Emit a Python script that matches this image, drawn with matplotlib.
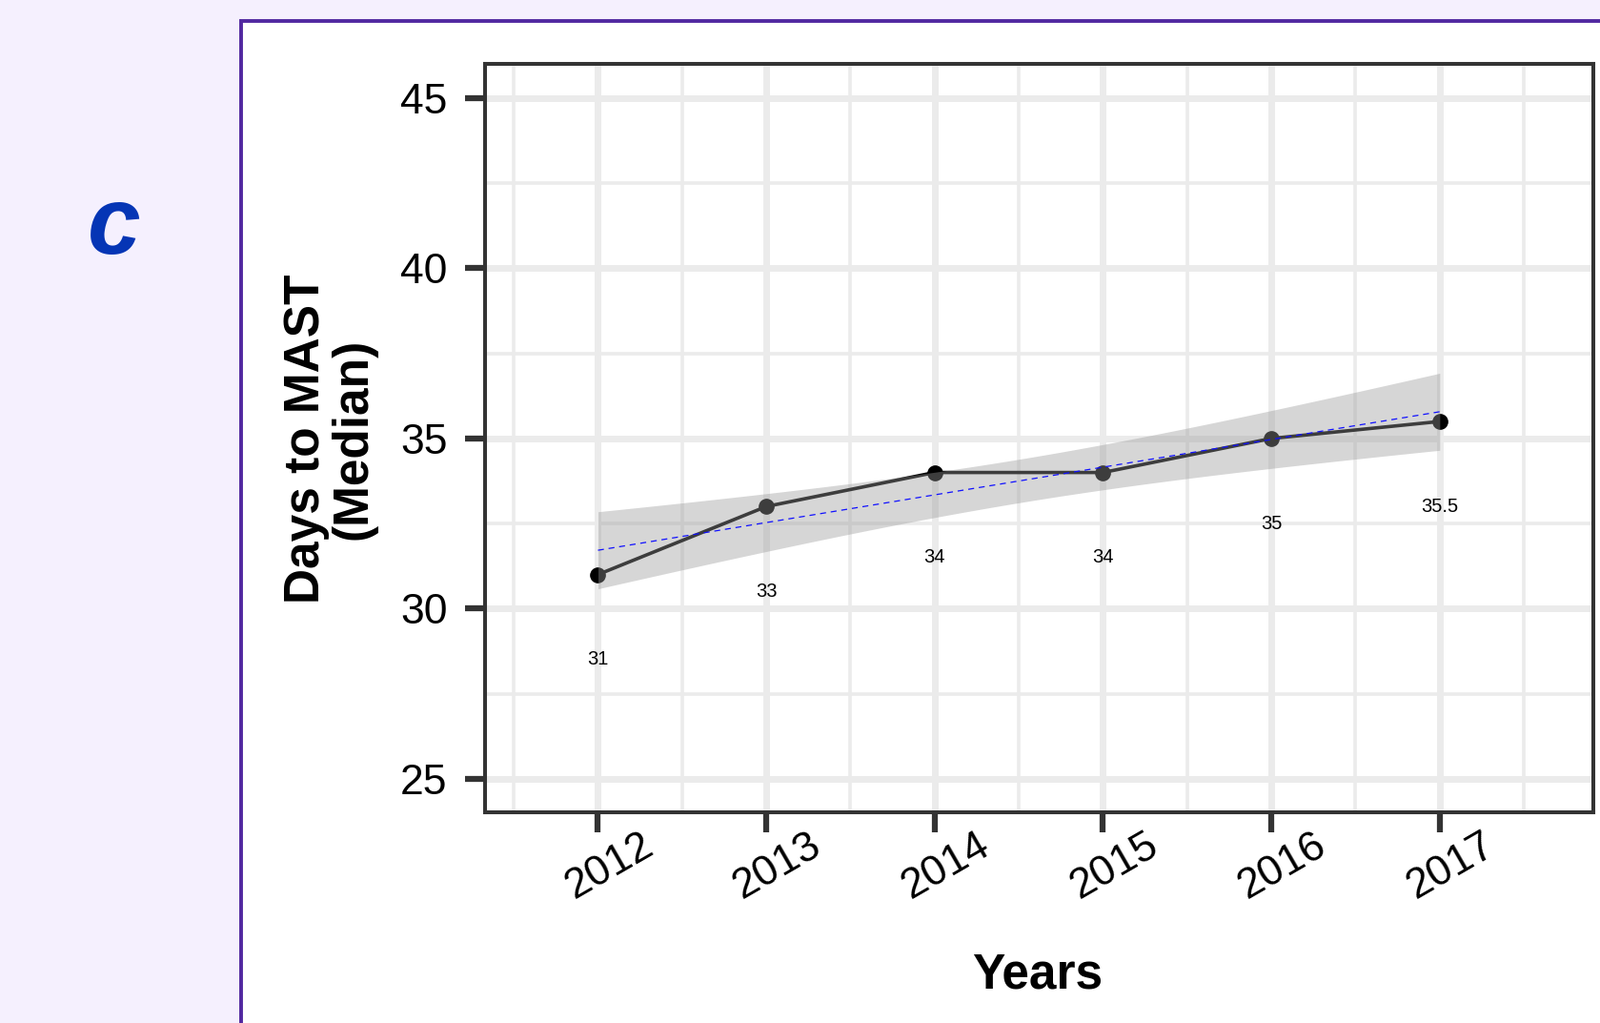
import numpy as np
import matplotlib.pyplot as plt
from matplotlib.patches import Rectangle
from matplotlib.transforms import ScaledTranslation

plt.rcParams['font.family'] = ['Liberation Sans', 'DejaVu Sans']

# data
years = [2012, 2013, 2014, 2015, 2016, 2017]
median_days = [31, 33, 34, 34, 35, 35.5]
point_labels = ['31', '33', '34', '34', '35', '35.5']
y_ticks = [25, 30, 35, 40, 45]
x_minor = [2011.5, 2012.5, 2013.5, 2014.5, 2015.5, 2016.5, 2017.5]
y_minor = [27.5, 32.5, 37.5, 42.5]

# linear fit with 95% band, like geom_smooth(method = "lm")
x = np.array(years, dtype=float)
y = np.array(median_days, dtype=float)
slope, intercept = np.polyfit(x, y, 1)
n = len(x)
resid = y - (intercept + slope * x)
s = np.sqrt(np.sum(resid ** 2) / (n - 2))
t_crit = 2.776  # t(0.975, df = 4)
xs = np.linspace(x.min(), x.max(), 80)
fit = intercept + slope * xs
se = s * np.sqrt(1 / n + (xs - x.mean()) ** 2 / np.sum((x - x.mean()) ** 2))

fig = plt.figure(figsize=(16.79, 10.73), dpi=100)
fig.patch.set_facecolor('#F5F0FE')

# white panel with purple frame
fig.patches.append(Rectangle((253 / 1679, -0.05), 1.0, 1.05 - 22 / 1073,
                             transform=fig.transFigure, facecolor='white',
                             edgecolor='#5128A0', linewidth=2.8, zorder=-10))

fig.text(120 / 1679, 1 - 240 / 1073, 'c', color='#0535B5', fontsize=72,
         fontweight='bold', fontstyle='italic', ha='center', va='center')

ax = fig.add_axes([508.6 / 1679, 1 - 852.4 / 1073,
                   1163 / 1679, 785 / 1073])
ax.set_zorder(5)
ax.set_facecolor('white')

ax.plot(x, y, color='black', linewidth=2.6, zorder=3)
ax.plot(x, y, 'o', color='black', markersize=11, zorder=3)
ax.fill_between(xs, fit - t_crit * se, fit + t_crit * se,
                color='#999999', alpha=0.4, linewidth=0, zorder=4)
ax.plot(xs, fit, color='#1010FF', linewidth=0.9, linestyle=(0, (5, 4)), zorder=5)

for xi, yi, lab in zip(years, median_days, point_labels):
    ax.text(xi, yi - 2.5, lab, fontsize=14.5, ha='center', va='center', zorder=6)

ax.set_xlim(2011.327, 2017.91)
ax.set_ylim(24, 46)
ax.set_xticks(years)
ax.set_xticks(x_minor, minor=True)
ax.set_yticks(y_ticks)
ax.set_yticks(y_minor, minor=True)
ax.set_xticklabels([str(v) for v in years], rotation=30, ha='center', va='top')
ax.set_yticklabels([str(v) for v in y_ticks])

ax.grid(which='major', color='#EBEBEB', linewidth=5)
ax.grid(which='minor', color='#EBEBEB', linewidth=2.6)
ax.set_axisbelow(True)

ax.tick_params(which='major', length=15, width=4.5, color='#333333',
               labelsize=32, labelcolor='black')
ax.tick_params(axis='y', which='major', pad=13)
ax.tick_params(axis='x', which='major', pad=-5)
ax.tick_params(which='minor', length=0)
for sp in ax.spines.values():
    sp.set_color('#333333')
    sp.set_linewidth(2.9)

shift = ScaledTranslation(12 / 100, 0, fig.dpi_scale_trans)
for lab in ax.get_xticklabels():
    lab.set_transform(lab.get_transform() + shift)

ax.text(0.499, -0.2346, 'Years', transform=ax.transAxes, fontsize=37,
        fontweight='bold', ha='center', va='baseline')
ax.text(-0.1398, 0.5, 'Days to MAST\n(Median)', transform=ax.transAxes,
        fontsize=37, fontweight='bold', rotation=90, ha='center', va='center',
        multialignment='center', linespacing=1.0)

fig.savefig('out.png', dpi=100, facecolor=fig.get_facecolor())
